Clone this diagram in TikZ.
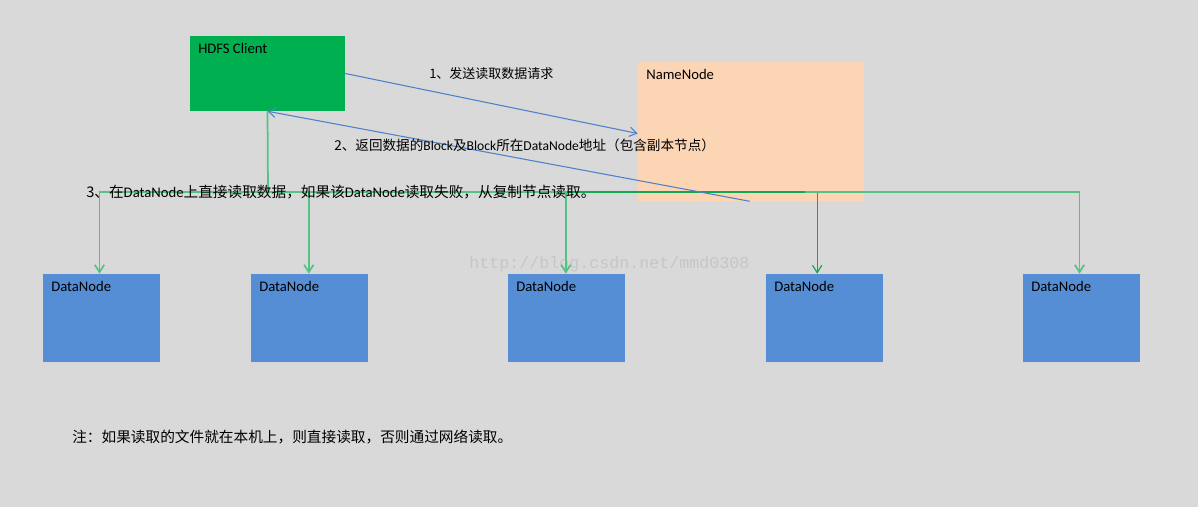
\documentclass[tikz,border=0pt]{standalone}
\usepackage{fontspec}
\setmainfont{Carlito}
\newfontfamily\cjk{Noto Sans CJK SC}
\newfontfamily\wmfont{Liberation Mono}
\usetikzlibrary{arrows.meta}
\definecolor{bg}{HTML}{D9D9D9}
\definecolor{clientc}{HTML}{00B050}
\definecolor{namec}{HTML}{FCD5B4}
\definecolor{datac}{HTML}{558ED5}
\definecolor{bluel}{HTML}{4F81C8}
\definecolor{greenl}{HTML}{55C285}
\definecolor{greend}{HTML}{10A850}
\definecolor{wmc}{HTML}{C6C6C6}
\tikzset{
  box/.style={rectangle, inner sep=0pt, draw=none},
  clientbox/.style={box, fill=clientc, minimum width=155*0.75pt, minimum height=75*0.75pt},
  namebox/.style={box, fill=namec, minimum width=226*0.75pt, minimum height=139*0.75pt},
  databox/.style={box, fill=datac, minimum width=117*0.75pt, minimum height=88*0.75pt},
  boxlabel/.style={anchor=west, inner sep=0pt, font=\fontsize{11pt}{13pt}\selectfont, text=black},
  msg/.style={anchor=west, inner sep=0pt, text=black},
  tipv/.style={-{Straight Barb[length=5.5pt,width=7pt]}},
  blueline/.style={draw=bluel, line width=0.8pt},
  greenline/.style={draw=greenl, line width=1.3pt},
  greendline/.style={draw=greend, line width=0.9pt},
}
\begin{document}
\begin{tikzpicture}[x=0.75pt,y=-0.75pt]
\fill[bg] (0,0) rectangle (1198,507);
\useasboundingbox (0,0) rectangle (1198,507);

% watermark
\node[inner sep=0pt, anchor=west, text=wmc, font=\wmfont\fontsize{12.5pt}{14pt}\selectfont] (wm) at (469,264) {http://blog.csdn.net/mmd0308};

% boxes
\node[clientbox] (hc) at (267.5,73.5) {};
\node[namebox] (nn) at (751,131.5) {};
\node[databox] (dn1) at (101.5,318) {};
\node[databox] (dn2) at (309.5,318) {};
\node[databox] (dn3) at (566.5,318) {};
\node[databox] (dn4) at (824.5,318) {};
\node[databox] (dn5) at (1081.5,318) {};

% box labels
\node[boxlabel] (hcl) at (198,48) {HDFS Client};
\node[boxlabel] (nnl) at (646,74) {NameNode};
\node[boxlabel] (dl1) at (51,286) {DataNode};
\node[boxlabel] (dl2) at (259,286) {DataNode};
\node[boxlabel] (dl3) at (516,286) {DataNode};
\node[boxlabel] (dl4) at (774,286) {DataNode};
\node[boxlabel] (dl5) at (1031,286) {DataNode};

% green connectors
\coordinate (j) at (268,192);
\coordinate (jr) at (805,192);
\draw[greendline,tipv] (j) -| ([xshift=-5.5]dn4.north);
\draw[greenline] (hc.south) -- (j);
\draw[greenline,tipv] (j) -| ([xshift=-1.5]dn1.north);
\draw[greenline,tipv] (j) -| ([xshift=-0.5]dn2.north);
\draw[greenline,tipv] (j) -| ([xshift=-0.5]dn3.north);
\draw[greenline,tipv] (jr) -| ([xshift=-1.5]dn5.north);

% blue connectors
\draw[blueline,tipv] (hc.east) -- ([yshift=-1.5]nn.west);
\draw[blueline,tipv] ([xshift=-1]nn.south) -- (hc.south);

% messages
\node[msg, font=\cjk\fontsize{9.75pt}{12pt}\selectfont] (m1) at (429,74) {1、发送读取数据请求};
\node[msg, font=\fontsize{10.2pt}{12pt}\selectfont] (m2) at (334,145) {{\cjk 2、返回数据的}Block{\cjk 及}Block{\cjk 所在}DataNode{\cjk 地址（包含副本节点）}};
\node[msg, font=\fontsize{11pt}{13pt}\selectfont] (m3) at (86,192) {{\cjk 3、在}DataNode{\cjk 上直接读取数据，如果该}DataNode{\cjk 读取失败，从复制节点读取。}};
\node[msg, font=\cjk\fontsize{11pt}{13pt}\selectfont] (note) at (72,437) {注：如果读取的文件就在本机上，则直接读取，否则通过网络读取。};
\end{tikzpicture}
\end{document}
